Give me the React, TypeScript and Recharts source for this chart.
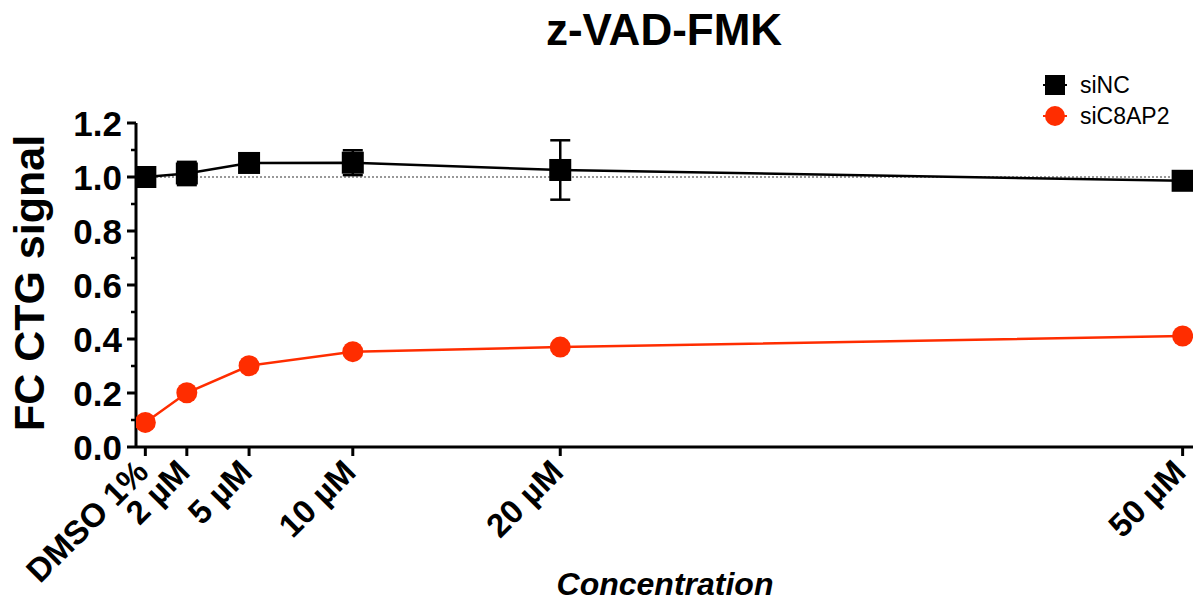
import React from 'react';
import {
  ComposedChart,
  Line,
  XAxis,
  YAxis,
  ErrorBar,
  ReferenceLine,
} from 'recharts';

// concentraciones (µM), DMSO = 0
const concentraciones = [0, 2, 5, 10, 20, 50];
const etiquetasX = ['DMSO 1%', '2 µM', '5 µM', '10 µM', '20 µM', '50 µM'];

const siNC = [1.0, 1.013, 1.052, 1.053, 1.026, 0.986];
const siNCError = [0, 0.043, 0, 0.046, 0.11, 0];
const siC8AP2 = [0.091, 0.201, 0.301, 0.353, 0.37, 0.411];

const ticksY = [0, 0.1, 0.2, 0.3, 0.4, 0.5, 0.6, 0.7, 0.8, 0.9, 1.0, 1.1, 1.2];
const etiquetasY = ['0.0', '', '0.2', '', '0.4', '', '0.6', '', '0.8', '', '1.0', '', '1.2'];

const ROJO = '#FF2D00';
const FUENTE = '"Liberation Sans", Arial, Helvetica, sans-serif';

const datos = concentraciones.map((c, i) => ({
  conc: c,
  siNC: siNC[i],
  errNC: siNCError[i],
  siC8AP2: siC8AP2[i],
}));

function TickY(props: any) {
  const { x, y, index } = props;
  const label = etiquetasY[index];
  const mayor = label !== '';
  return (
    <g>
      <line x1={x - (mayor ? 9 : 5)} x2={x} y1={y} y2={y} stroke="#000" strokeWidth={mayor ? 3 : 2.5} />
      {mayor && (
        <text x={x - 14} y={y} dy="0.36em" textAnchor="end" fontFamily={FUENTE} fontWeight="bold" fontSize={35} fill="#000">
          {label}
        </text>
      )}
    </g>
  );
}

function TickX(props: any) {
  const { x, y, payload } = props;
  const i = concentraciones.indexOf(payload.value);
  const tx = x + 5;
  const ty = y + 27;
  return (
    <g>
      <line x1={x} x2={x} y1={y} y2={y + 9} stroke="#000" strokeWidth={3} />
      <text
        x={tx}
        y={ty}
        textAnchor="end"
        transform={`rotate(-45 ${tx} ${ty})`}
        fontFamily={FUENTE}
        fontWeight="bold"
        fontSize={33}
        fill="#000"
      >
        {etiquetasX[i]}
      </text>
    </g>
  );
}

function Cuadrado(props: any) {
  const { cx, cy } = props;
  if (cx == null || cy == null) return null;
  return <rect x={cx - 11} y={cy - 11} width={22} height={22} fill="#000" />;
}

function Circulo(props: any) {
  const { cx, cy } = props;
  if (cx == null || cy == null) return null;
  return <circle cx={cx} cy={cy} r={10.5} fill={ROJO} />;
}

export default function App() {
  return (
    <div style={{ position: 'absolute', left: 0, top: 0, width: 1196, height: 601, background: '#fff' }}>
      <ComposedChart
        width={1196}
        height={601}
        data={datos}
        margin={{ top: 123, right: 3, left: 60, bottom: 0 }}
      >
        <XAxis
          dataKey="conc"
          type="number"
          domain={[-0.45, 50.5]}
          allowDataOverflow
          ticks={concentraciones}
          interval={0}
          height={154}
          tickSize={0}
          tickMargin={0}
          tickLine={false}
          axisLine={{ stroke: '#000', strokeWidth: 3 }}
          tick={<TickX />}
        />
        <YAxis
          type="number"
          domain={[0, 1.2]}
          allowDataOverflow
          ticks={ticksY}
          interval={0}
          width={76}
          tickSize={0}
          tickMargin={0}
          tickLine={false}
          axisLine={{ stroke: '#000', strokeWidth: 3 }}
          tick={<TickY />}
        />
        <ReferenceLine y={1} stroke="#777" strokeDasharray="2 2" strokeWidth={1.5} />
        <Line
          dataKey="siNC"
          stroke="#000"
          strokeWidth={2.5}
          dot={<Cuadrado />}
          activeDot={false}
          isAnimationActive={false}
        >
          <ErrorBar dataKey="errNC" width={10} stroke="#000" strokeWidth={2.5} direction="y" isAnimationActive={false} />
        </Line>
        <Line
          dataKey="siC8AP2"
          stroke={ROJO}
          strokeWidth={2.5}
          dot={<Circulo />}
          activeDot={false}
          isAnimationActive={false}
        />
      </ComposedChart>

      <svg width={1196} height={601} style={{ position: 'absolute', left: 0, top: 0, pointerEvents: 'none' }}>
        <text x={664} y={45} textAnchor="middle" fontFamily={FUENTE} fontWeight="bold" fontSize={44} fill="#000">
          z-VAD-FMK
        </text>
        <text
          x={44}
          y={283}
          textAnchor="middle"
          transform="rotate(-90 44 283)"
          fontFamily={FUENTE}
          fontWeight="bold"
          fontSize={43}
          fill="#000"
        >
          FC CTG signal
        </text>
        <text x={665} y={595} textAnchor="middle" fontFamily={FUENTE} fontWeight="bold" fontStyle="italic" fontSize={32} fill="#000">
          Concentration
        </text>

        {/* leyenda */}
        <line x1={1043} x2={1067} y1={85} y2={85} stroke="#000" strokeWidth={2} />
        <rect x={1045} y={75} width={20} height={20} fill="#000" />
        <text x={1080} y={93} fontFamily={FUENTE} fontSize={23} fill="#000">siNC</text>
        <line x1={1043} x2={1067} y1={116} y2={116} stroke={ROJO} strokeWidth={2} />
        <circle cx={1055} cy={116} r={10} fill={ROJO} />
        <text x={1080} y={124} fontFamily={FUENTE} fontSize={23} fill="#000">siC8AP2</text>
      </svg>
    </div>
  );
}
